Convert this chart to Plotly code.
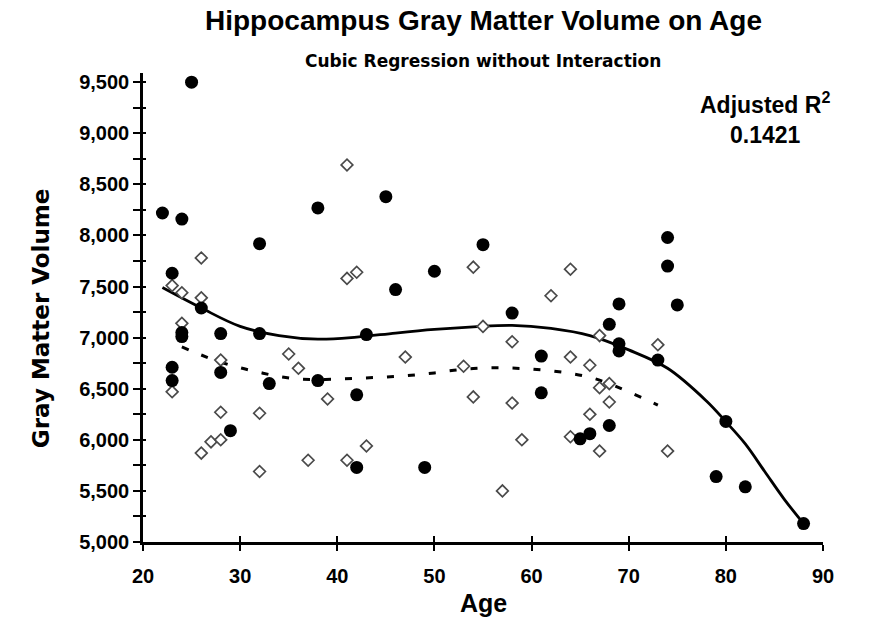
import plotly.graph_objects as go

# Group A (filled circles)
age_a = [22, 23, 23, 23, 24, 24, 24, 25, 26, 28, 28, 29, 32, 32, 33, 38, 38,
         42, 42, 43, 45, 46, 49, 50, 55, 58, 61, 61, 65, 66, 68, 68, 69, 69,
         69, 73, 74, 74, 75, 79, 80, 82, 88]
vol_a = [8220, 7630, 6710, 6580, 8160, 7050, 7010, 9500, 7290, 7040, 6660,
         6090, 7920, 7040, 6550, 8270, 6580, 6440, 5730, 7030, 8380, 7470,
         5730, 7650, 7910, 7240, 6820, 6460, 6010, 6060, 6140, 7130, 7330,
         6940, 6870, 6780, 7980, 7700, 7320, 5640, 6180, 5540, 5180]

# Group B (open diamonds)
age_b = [23, 24, 26, 26, 24, 28, 23, 35, 36, 39, 28, 32, 26, 27, 28, 32, 37,
         41, 43, 41, 41, 42, 62, 55, 58, 47, 53, 64, 66, 67, 67, 68, 68, 66,
         54, 58, 59, 64, 67, 57, 54, 64, 73, 74]
vol_b = [7510, 7440, 7780, 7390, 7140, 6780, 6470, 6840, 6700, 6400, 6270,
         6260, 5870, 5980, 6000, 5690, 5800, 5800, 5940, 8690, 7580, 7640,
         7410, 7110, 6960, 6810, 6720, 6810, 6730, 7020, 6510, 6550, 6370,
         6250, 6420, 6360, 6000, 6030, 5890, 5500, 7690, 7670, 6930, 5890]

# Fitted cubic curves
fit_age_a = [22, 26, 30, 34, 38, 42, 46, 50, 54, 58, 62, 66, 70, 74, 78, 80,
             82, 84, 86, 88]
fit_vol_a = [7490, 7290, 7110, 7020, 6985, 7005, 7045, 7080, 7105, 7120, 7090,
             7020, 6880, 6700, 6380, 6177, 5960, 5690, 5420, 5180]

fit_age_b = [24, 26, 28, 30, 32, 34, 36, 38, 40, 42, 44, 46, 48, 50, 52, 54,
             56, 58, 60, 62, 64, 66, 68, 70, 72, 73]
fit_vol_b = [6910, 6830, 6760, 6705, 6660, 6620, 6595, 6590, 6595, 6603,
             6610, 6620, 6635, 6655, 6680, 6697, 6705, 6702, 6692, 6675,
             6650, 6612, 6550, 6470, 6385, 6340]

x_ticks = [20, 30, 40, 50, 60, 70, 80, 90]
y_ticks = [5000, 5500, 6000, 6500, 7000, 7500, 8000, 8500, 9000, 9500]
y_labels = [f"{v:,}" for v in y_ticks]

FONT = "Liberation Sans"
WIDE = "DejaVu Sans"

fig = go.Figure()

fig.add_trace(go.Scatter(
    x=fit_age_a, y=fit_vol_a, mode="lines", line_shape="spline",
    line=dict(color="black", width=2.8), hoverinfo="skip", showlegend=False))
fig.add_trace(go.Scatter(
    x=fit_age_b, y=fit_vol_b, mode="lines", line_shape="spline",
    line=dict(color="black", width=3, dash="7px,14px"),
    hoverinfo="skip", showlegend=False))

fig.add_trace(go.Scatter(
    x=age_b, y=vol_b, mode="markers", showlegend=False,
    marker=dict(symbol="diamond", size=9, color="white",
                line=dict(color="#4a4a4a", width=1.7))))
fig.add_trace(go.Scatter(
    x=age_a, y=vol_a, mode="markers", showlegend=False,
    marker=dict(symbol="circle", size=13, color="black",
                line=dict(width=0))))

# empty trace so the overlay axes (inner tick halves) are drawn
fig.add_trace(go.Scatter(x=[None], y=[None], xaxis="x2", yaxis="y2",
                         showlegend=False, hoverinfo="skip"))

tickfont = dict(family=FONT, size=20, color="black", weight="bold")

fig.update_layout(
    width=894, height=621,
    margin=dict(l=143, r=71, t=73, b=79),
    paper_bgcolor="white", plot_bgcolor="white",
    xaxis=dict(range=[20, 90], tickvals=x_ticks, ticks="outside",
               ticklen=6, tickwidth=2, tickcolor="black",
               ticklabelstandoff=8,
               showline=True, linecolor="black", linewidth=2.5,
               showgrid=False, zeroline=False, tickfont=tickfont),
    yaxis=dict(range=[5000, 9590], tickvals=y_ticks, ticktext=y_labels,
               ticks="outside", ticklen=7, tickwidth=2, tickcolor="black",
               minor=dict(tickvals=[v + 250 for v in y_ticks], ticks="outside",
                          ticklen=7, tickwidth=2, tickcolor="black"),
               showline=True, linecolor="black", linewidth=2.5,
               showgrid=False, zeroline=False, tickfont=tickfont),
    xaxis2=dict(range=[20, 90], tickvals=x_ticks, ticks="inside",
                ticklen=6, tickwidth=2, tickcolor="black",
                overlaying="x", anchor="y2", side="bottom",
                showticklabels=False, showline=False, showgrid=False,
                zeroline=False),
    yaxis2=dict(range=[5000, 9590],
                tickvals=y_ticks + [v + 250 for v in y_ticks],
                ticks="inside", ticklen=3, tickwidth=2, tickcolor="black",
                overlaying="y", anchor="x2", side="left",
                showticklabels=False, showline=False, showgrid=False,
                zeroline=False),
)

fig.add_annotation(text="Hippocampus Gray Matter Volume on Age",
                   xref="paper", yref="paper", x=0.5, y=1.111,
                   xanchor="center", yanchor="middle", showarrow=False,
                   font=dict(family=FONT, size=28, color="black", weight="bold"))
fig.add_annotation(text="Cubic Regression without Interaction",
                   xref="paper", yref="paper", x=0.5, y=1.0256,
                   xanchor="center", yanchor="middle", showarrow=False,
                   font=dict(family=WIDE, size=17, color="black", weight="bold"))
fig.add_annotation(text="Adjusted R<sup>2</sup><br>0.1421",
                   xref="x", yref="y", x=84, y=9150,
                   xanchor="center", yanchor="middle", showarrow=False,
                   align="center",
                   font=dict(family=FONT, size=23, color="black", weight="bold"))
fig.add_annotation(text="Age", xref="paper", yref="paper", x=0.5, y=-0.131,
                   xanchor="center", yanchor="middle", showarrow=False,
                   font=dict(family=FONT, size=25, color="black", weight="bold"))
fig.add_annotation(text="Gray Matter Volume", xref="paper", yref="paper",
                   x=-0.151, y=0.478, textangle=-90,
                   xanchor="center", yanchor="middle", showarrow=False,
                   font=dict(family=WIDE, size=23, color="black", weight="bold"))

fig.write_html("out.html")
